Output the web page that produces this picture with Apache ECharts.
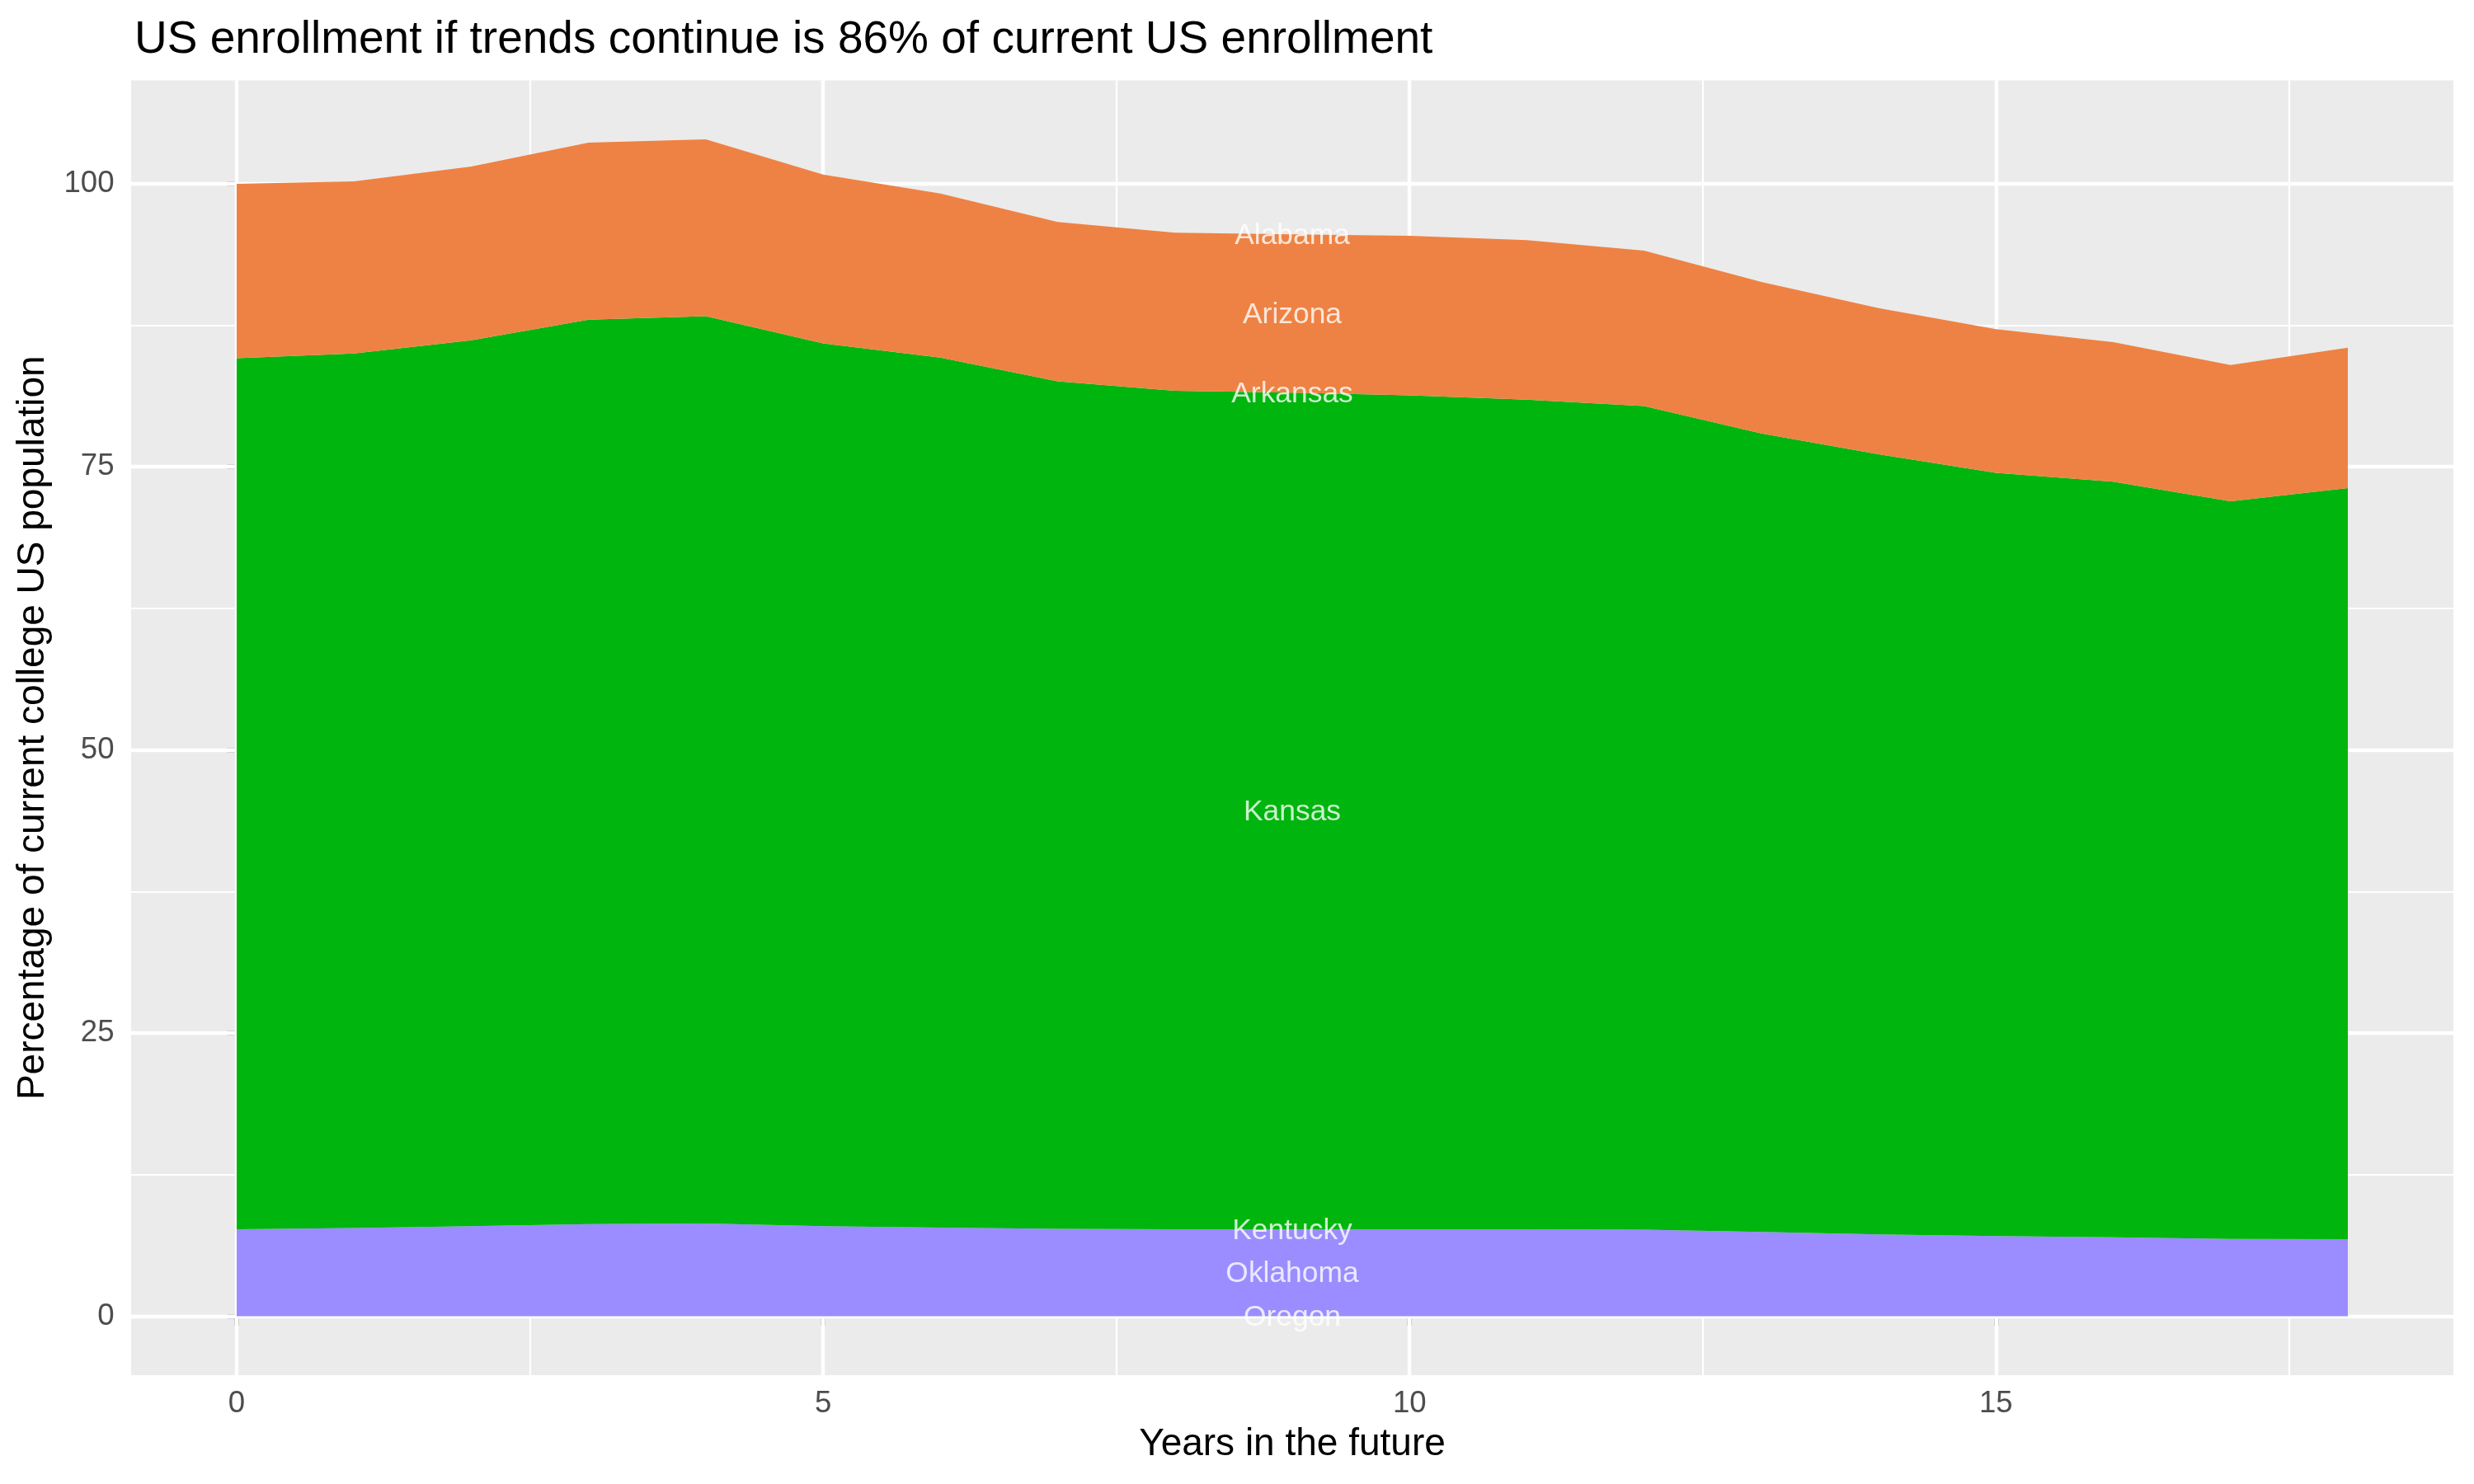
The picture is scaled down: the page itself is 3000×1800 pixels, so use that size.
<!DOCTYPE html>
<html>
<head>
<meta charset="utf-8">
<script src="https://cdn.jsdelivr.net/npm/echarts@6/dist/echarts.min.js"></script>
<style>
  html, body { margin: 0; padding: 0; background: #ffffff; }
  #chart { width: 3000px; height: 1800px; }
</style>
</head>
<body>
<div id="chart"></div>
<script>
// ---- data ----
const years = [0, 1, 2, 3, 4, 5, 6, 7, 8, 9, 10, 11, 12, 13, 14, 15, 16, 17, 18];
// stacking order bottom -> top
const states = ["Oregon", "Oklahoma", "Kentucky", "Kansas", "Arkansas", "Arizona", "Alabama"];
const oregon   = [0, 0, 0, 0, 0, 0, 0, 0, 0, 0, 0, 0, 0, 0, 0, 0, 0, 0, 0];
const oklahoma = [7.69, 7.8, 7.96, 8.13, 8.2, 7.96, 7.82, 7.72, 7.69, 7.69, 7.69, 7.69, 7.65, 7.45, 7.23, 7.09, 6.97, 6.82, 6.8];
const kentucky = [0, 0, 0, 0, 0, 0, 0, 0, 0, 0, 0, 0, 0, 0, 0, 0, 0, 0, 0];
const kansas   = [76.88, 77.2, 78.2, 79.84, 80.08, 77.92, 76.81, 74.82, 74.0, 73.85, 73.61, 73.23, 72.71, 70.48, 68.87, 67.36, 66.7, 65.13, 66.31];
const arkansas = [0, 0, 0, 0, 0, 0, 0, 0, 0, 0, 0, 0, 0, 0, 0, 0, 0, 0, 0];
const arizona  = [15.4, 15.18, 15.33, 15.63, 15.62, 14.91, 14.49, 14.06, 13.96, 13.96, 14.08, 14.07, 13.71, 13.38, 12.9, 12.68, 12.33, 12.03, 12.4];
const alabama  = [0, 0, 0, 0, 0, 0, 0, 0, 0, 0, 0, 0, 0, 0, 0, 0, 0, 0, 0];
const stateColors = ["#9B8DFF", "#9B8DFF", "#9B8DFF", "#00B50D", "#EE8244", "#EE8244", "#EE8244"];
const labelYear = 9;

const xMajorTicks = [0, 5, 10, 15];
const xMinorTicks = [2.5, 7.5, 12.5, 17.5];
const yMajorTicks = [0, 25, 50, 75, 100];
const yMinorTicks = [12.5, 37.5, 62.5, 87.5];

const titleText = "US enrollment if trends continue is 86% of current US enrollment";
const xTitle = "Years in the future";
const yTitle = "Percentage of current college US population";

// ---- build ----
const values = [oregon, oklahoma, kentucky, kansas, arkansas, arizona, alabama];
const FONT = "'Liberation Sans', Arial, Helvetica, sans-serif";

// value first, year second, so that the library stacks the y dimension
const areaSeries = states.map((s, i) => ({
  name: s,
  type: 'line',
  stack: 'total',
  data: years.map((y, j) => [values[i][j], y]),
  encode: { x: 1, y: 0 },
  showSymbol: false,
  symbol: 'none',
  lineStyle: { width: 0 },
  areaStyle: { color: stateColors[i], opacity: 1 },
  z: 2,
  silent: true
}));

// gridlines drawn underneath the areas
const gridLineSeries = {
  type: 'line',
  data: [],
  silent: true,
  z: 1,
  markLine: {
    z: 1,
    silent: true,
    symbol: ['none', 'none'],
    label: { show: false },
    animation: false,
    data: [
      ...xMinorTicks.map(v => ({ xAxis: v, lineStyle: { color: '#ffffff', width: 2.2, type: 'solid' } })),
      ...yMinorTicks.map(v => ({ yAxis: v, lineStyle: { color: '#ffffff', width: 2.2, type: 'solid' } })),
      ...xMajorTicks.map(v => ({ xAxis: v, lineStyle: { color: '#ffffff', width: 4.4, type: 'solid' } })),
      ...yMajorTicks.map(v => ({ yAxis: v, lineStyle: { color: '#ffffff', width: 4.4, type: 'solid' } }))
    ]
  }
};

// labels at the middle of each state's band at labelYear
const idx = years.indexOf(labelYear);
let cum = 0;
const labelData = states.map((s, i) => {
  const v = values[i][idx];
  const mid = cum + v / 2;
  cum += v;
  return { name: s, value: [labelYear, mid] };
});

const labelSeries = {
  type: 'scatter',
  data: labelData,
  symbolSize: 0,
  silent: true,
  z: 10,
  label: {
    show: true,
    position: 'inside',
    offset: [0, 2],
    formatter: p => p.name,
    color: '#ffffff',
    fontFamily: FONT,
    fontSize: 35.4
  }
};

const chart = echarts.init(document.getElementById('chart'), null, { renderer: 'canvas' });
chart.setOption({
  animation: false,
  backgroundColor: '#ffffff',
  title: {
    text: titleText,
    left: 163,
    top: 21,
    padding: 0,
    textStyle: { fontFamily: FONT, fontSize: 55, fontWeight: 'normal', color: '#000000', lineHeight: 55 }
  },
  grid: {
    left: 159, right: 25, top: 97.5, bottom: 132,
    show: true,
    backgroundColor: '#EBEBEB',
    borderWidth: 0,
    containLabel: false
  },
  xAxis: {
    type: 'value',
    min: -0.9,
    max: 18.9,
    name: xTitle,
    nameLocation: 'middle',
    nameGap: 61,
    nameTextStyle: { fontFamily: FONT, fontSize: 46, color: '#000000', lineHeight: 46 },
    axisLine: { show: false },
    axisTick: { show: true, customValues: xMajorTicks, length: 11.5, lineStyle: { color: '#333333', width: 4.4 } },
    axisLabel: { customValues: xMajorTicks, fontFamily: FONT, fontSize: 36.6, color: '#4D4D4D', margin: 17, lineHeight: 36.6 },
    splitLine: { show: false }
  },
  yAxis: {
    type: 'value',
    min: -5.2,
    max: 109.1,
    name: yTitle,
    nameLocation: 'middle',
    nameGap: 96,
    nameTextStyle: { fontFamily: FONT, fontSize: 46, color: '#000000', lineHeight: 46 },
    axisLine: { show: false },
    axisTick: { show: true, customValues: yMajorTicks, length: 11.5, lineStyle: { color: '#333333', width: 4.4 } },
    axisLabel: { customValues: yMajorTicks, fontFamily: FONT, fontSize: 36.6, color: '#4D4D4D', margin: 20.5 },
    splitLine: { show: false }
  },
  series: [gridLineSeries, ...areaSeries, labelSeries]
});
</script>
</body>
</html>
